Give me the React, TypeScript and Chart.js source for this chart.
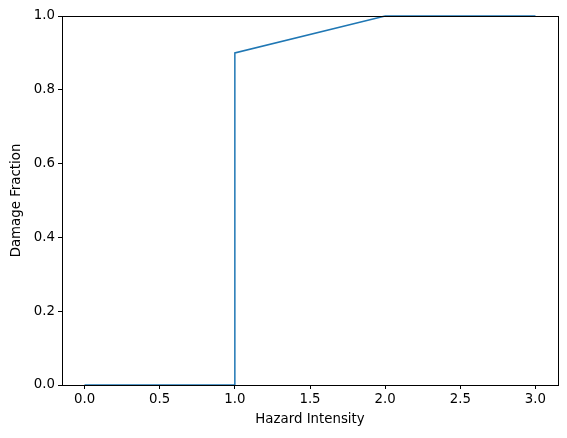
import React, { useEffect, useRef } from "react";
import { Chart, registerables } from "chart.js";

Chart.register(...registerables);

const xValues = [0, 1, 1, 2, 3];
const yValues = [0, 0, 0.9, 1, 1];
const xTicks = [0, 0.5, 1, 1.5, 2, 2.5, 3];
const yTicks = [0, 0.2, 0.4, 0.6, 0.8, 1.0];

const FONT = "'DejaVu Sans', sans-serif";

export default function App() {
  const ref = useRef<HTMLCanvasElement>(null);
  useEffect(() => {
    if (!ref.current) return;
    const frame = {
      id: "frame",
      afterDatasetsDraw(chart: any) {
        const { ctx, chartArea: a } = chart;
        ctx.save();
        ctx.strokeStyle = "#000";
        ctx.lineWidth = 1;
        ctx.strokeRect(Math.round(a.left) + 0.5, Math.round(a.top) + 0.5, Math.round(a.right - a.left), Math.round(a.bottom - a.top));
        ctx.restore();
      },
    };
    const chart = new Chart(ref.current, {
      type: "line",
      data: {
        datasets: [
          {
            data: xValues.map((x, i) => ({ x, y: yValues[i] })),
            borderColor: "#1f77b4",
            borderWidth: 1.5,
            pointRadius: 0,
            fill: false,
            tension: 0,
            clip: 2,
          },
        ],
      },
      options: {
        animation: false,
        responsive: false,
        layout: { padding: { left: 5, right: 9, top: 16, bottom: 6 } },
        plugins: { legend: { display: false }, tooltip: { enabled: false } },
        scales: {
          x: {
            type: "linear",
            min: -0.15,
            max: 3.15,
            afterBuildTicks: (s: any) => {
              s.ticks = xTicks.map((v) => ({ value: v }));
            },
            afterFit: (s: any) => {
              s.height = 47;
            },
            grid: { drawOnChartArea: false, drawTicks: true, tickLength: 4, color: "#000" },
            border: { display: false },
            ticks: {
              color: "#000",
              padding: 3,
              maxRotation: 0,
              font: { family: FONT, size: 13.33 },
              callback: (v: any) => Number(v).toFixed(1),
            },
            title: { display: true, text: "Hazard Intensity", color: "#000", font: { family: FONT, size: 13.33 } },
          },
          y: {
            type: "linear",
            min: 0,
            max: 1,
            afterBuildTicks: (s: any) => {
              s.ticks = yTicks.map((v) => ({ value: v }));
            },
            afterFit: (s: any) => {
              s.width = 57;
            },
            grid: { drawOnChartArea: false, drawTicks: true, tickLength: 4, color: "#000" },
            border: { display: false },
            ticks: {
              color: "#000",
              padding: 3,
              font: { family: FONT, size: 13.33 },
              callback: (v: any) => Number(v).toFixed(1),
            },
            title: { display: true, text: "Damage Fraction", color: "#000", font: { family: FONT, size: 13.33 } },
          },
        },
      },
      plugins: [frame],
    });
    return () => chart.destroy();
  }, []);
  return (
    <div style={{ position: "fixed", left: 0, top: 0, width: 567, height: 438, background: "#fff" }}>
      <canvas ref={ref} width={567} height={438} />
    </div>
  );
}
